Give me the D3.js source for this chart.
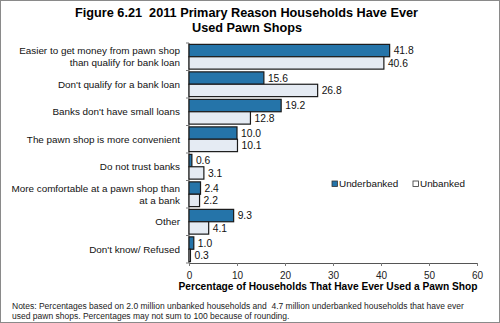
<!DOCTYPE html>
<html><head><meta charset="utf-8">
<script src="https://cdn.jsdelivr.net/npm/d3@7"></script>
<style>body{margin:0;background:#fff;}svg{display:block;font-family:"Liberation Sans",Arial,sans-serif;}text{white-space:pre;}</style>
</head><body>
<svg id="c" width="500" height="323"></svg>
<script>
const categories = [
  ["Easier to get money from pawn shop","than qualify for bank loan"],
  ["Don't qualify for a bank loan"],
  ["Banks don't have small loans"],
  ["The pawn shop is more convenient"],
  ["Do not trust banks"],
  ["More comfortable at a pawn shop than","at a bank"],
  ["Other"],
  ["Don't know/ Refused"]
];
const underbanked = [41.8, 15.6, 19.2, 10.0, 0.6, 2.4, 9.3, 1.0];
const unbanked    = [40.6, 26.8, 12.8, 10.1, 3.1, 2.2, 4.1, 0.3];
const seriesNames = ["Underbanked","Unbanked"];
const xTicks = [0,10,20,30,40,50,60];
const colors = ["#2574a9","#e5ebf3"];

const svg = d3.select("#c");
svg.append("rect").attr("x",0.5).attr("y",0.5).attr("width",499).attr("height",322)
  .attr("fill","#fff").attr("stroke","#8a8a8a");

svg.append("text").attr("x",246.5).attr("y",16.5).attr("text-anchor","middle")
  .attr("font-weight","bold").attr("font-size",13.3).attr("textLength",343).attr("lengthAdjust","spacingAndGlyphs")
  .text("Figure 6.21  2011 Primary Reason Households Have Ever");
svg.append("text").attr("x",247).attr("y",32).attr("text-anchor","middle")
  .attr("font-weight","bold").attr("font-size",13.3).attr("textLength",110).attr("lengthAdjust","spacingAndGlyphs")
  .text("Used Pawn Shops");

const x = d3.scaleLinear().domain([0,60]).range([189,477]);
const y = d3.scaleBand().domain(d3.range(categories.length)).range([43,263]).paddingInner(0.1).paddingOuter(0.05);
const inner = d3.scaleBand().domain([0,1]).range([0,y.bandwidth()]);

// x axis
const xa = svg.append("g").attr("transform","translate(0,263)")
  .call(d3.axisBottom(x).tickValues(xTicks).tickSize(3).tickSizeOuter(0));
xa.select(".domain").attr("stroke","#555");
xa.selectAll(".tick line").attr("stroke","#777");
xa.selectAll("text").attr("font-size",10).attr("fill","#222").attr("dy","0.95em").attr("font-family","Liberation Sans, Arial, sans-serif");

// y axis line and ticks at boundaries
const bounds = d3.range(categories.length+1).map(i => 43 + i*(220/categories.length));
svg.append("line").attr("x1",189).attr("x2",189).attr("y1",43).attr("y2",263).attr("stroke","#555");
svg.selectAll(".yt").data(bounds).join("line").attr("x1",186).attr("x2",189)
  .attr("y1",d=>d).attr("y2",d=>d).attr("stroke","#777");

const series = [underbanked, unbanked];
const groups = svg.selectAll(".g").data(categories).join("g")
  .attr("transform",(d,i)=>`translate(0,${y(i)})`);

series.forEach((vals,s)=>{
  groups.append("rect")
    .attr("x",x(0)).attr("y",inner(s))
    .attr("width",(d,i)=>x(vals[i])-x(0)).attr("height",inner.bandwidth())
    .attr("fill",colors[s]).attr("stroke","#1a1a1a").attr("stroke-width",1.2);
  groups.append("text")
    .attr("x",(d,i)=>x(vals[i])+4).attr("y",inner(s)+inner.bandwidth()/2)
    .attr("dy","0.35em").attr("font-size",10.3).attr("fill","#111")
    .text((d,i)=>vals[i].toFixed(1));
});

// category labels
groups.each(function(lines,i){
  const g = d3.select(this);
  const c = y.bandwidth()/2;
  const n = lines.length;
  lines.forEach((t,k)=>{
    g.append("text").attr("x",180).attr("y",c + (k-(n-1)/2)*12.4)
      .attr("dy","0.35em").attr("text-anchor","end").attr("font-size",9.9).attr("fill","#111").text(t);
  });
});

// axis title
svg.append("text").attr("x",328).attr("y",289.5).attr("text-anchor","middle")
  .attr("font-weight","bold").attr("font-size",10.2).text("Percentage of Households That Have Ever Used a Pawn Shop");

// legend
const legX = [332,413];
seriesNames.forEach((n,s)=>{
  svg.append("rect").attr("x",legX[s]).attr("y",181).attr("width",5.5).attr("height",5.5)
    .attr("fill",s===0?colors[0]:"#fff").attr("stroke","#333").attr("stroke-width",0.8);
  svg.append("text").attr("x",legX[s]+7).attr("y",184).attr("dy","0.35em").attr("font-size",9.9).attr("fill","#111").text(n);
});

// notes
svg.append("text").attr("x",12).attr("y",309).attr("font-size",8.5).attr("fill","#222")
  .text("Notes: Percentages based on 2.0 million unbanked households and  4.7 million underbanked households that have ever");
svg.append("text").attr("x",12).attr("y",319).attr("font-size",8.5).attr("fill","#222")
  .text("used pawn shops. Percentages may not sum to 100 because of rounding.");
</script>
</body></html>
